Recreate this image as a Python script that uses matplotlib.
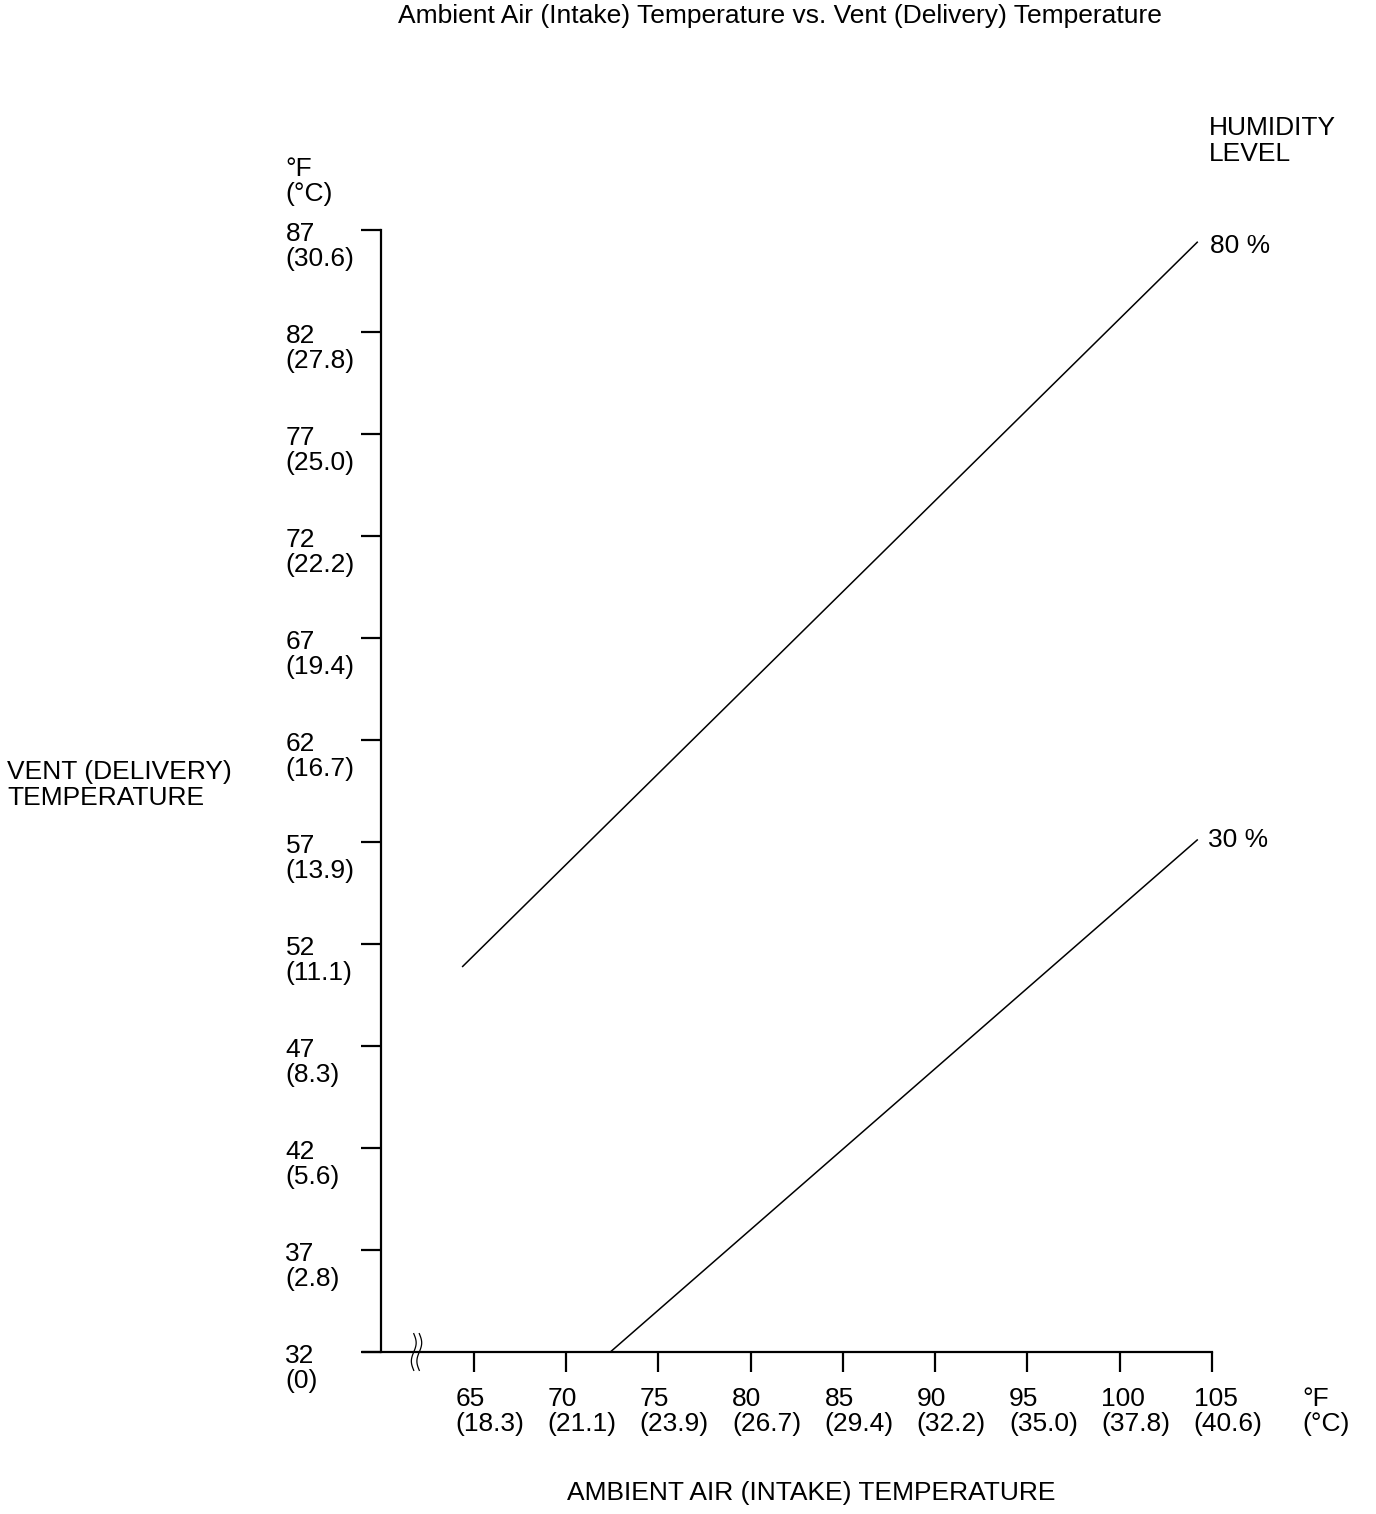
import numpy as np
import matplotlib
matplotlib.use('Agg')
import matplotlib.pyplot as plt

plt.rcParams['font.family'] = ['Liberation Sans', 'DejaVu Sans']

# Achsenwerte
x_ticks_f = [65, 70, 75, 80, 85, 90, 95, 100, 105]
x_ticks_c = ['18.3', '21.1', '23.9', '26.7', '29.4', '32.2', '35.0', '37.8', '40.6']
y_ticks_f = [32, 37, 42, 47, 52, 57, 62, 67, 72, 77, 82, 87]
y_ticks_c = ['0', '2.8', '5.6', '8.3', '11.1', '13.9', '16.7', '19.4', '22.2', '25.0', '27.8', '30.6']

# Kennlinien (Luftfeuchte)
hum_80_x = [64.4, 104.2]
hum_80_y = [50.9, 86.4]
hum_30_x = [72.4, 104.2]
hum_30_y = [32.0, 57.1]

W, H = 1376, 1514
fig = plt.figure(figsize=(W / 100, H / 100), dpi=100)

# Achse in Pixel positionieren
left, right, top, bottom = 363, 1212, 230, 1352
ax = fig.add_axes([left / W, 1 - bottom / H, (right - left) / W, (bottom - top) / H])
ax.set_xlim(59, 105)
ax.set_ylim(32, 87)

ax.spines['top'].set_visible(False)
ax.spines['right'].set_visible(False)
ax.spines['left'].set_position(('data', 60))
for s in ['left', 'bottom']:
    ax.spines[s].set_linewidth(1.6)

ax.set_xticks(x_ticks_f)
ax.set_yticks(y_ticks_f)
ax.tick_params(direction='out', length=14.5, width=1.6, labelbottom=False, labelleft=False)

ax.plot(hum_80_x, hum_80_y, color='black', lw=1.1)
ax.plot(hum_30_x, hum_30_y, color='black', lw=1.1, clip_on=False)

fs = 19
ls = 1.08
# Tick-Beschriftungen
for f, c in zip(x_ticks_f, x_ticks_c):
    ax.text(f - 1.0, 30.3, f'{f}\n({c})', ha='left', va='top', fontsize=fs,
            linespacing=ls, clip_on=False)
ax.text(109.9, 30.3, '°F\n(°C)', ha='left', va='top', fontsize=fs,
        linespacing=ls, clip_on=False)
for f, c in zip(y_ticks_f, y_ticks_c):
    ax.text(54.8, f + 0.4, f'{f}\n({c})', ha='left', va='top', fontsize=fs,
            linespacing=ls, clip_on=False)
ax.text(54.8, 90.6, '°F\n(°C)', ha='left', va='top', fontsize=fs,
        linespacing=ls, clip_on=False)

# Bruchzeichen auf der x-Achse
t = np.linspace(-1, 1, 50)
for dx in [0, 0.3]:
    xs = 61.75 + dx + 0.13 * np.sin(t * np.pi)
    ys = 32 + 0.9 * t
    ax.plot(xs, ys, color='black', lw=0.9, clip_on=False, zorder=5)

# Beschriftungen der Kennlinien
ax.text(104.9, 86.2, '80 %', ha='left', va='center', fontsize=fs, clip_on=False)
ax.text(104.8, 57.1, '30 %', ha='left', va='center', fontsize=fs, clip_on=False)

def ftext(x, y, s, **kw):
    fig.text(x / W, 1 - y / H, s, fontsize=fs, linespacing=ls, **kw)

ftext(780, 16, 'Ambient Air (Intake) Temperature vs. Vent (Delivery) Temperature',
      ha='center', va='center')
ftext(1209, 116, 'HUMIDITY\nLEVEL', ha='left', va='top')
ftext(7, 785, 'VENT (DELIVERY)\nTEMPERATURE', ha='left', va='center')
ftext(811, 1493, 'AMBIENT AIR (INTAKE) TEMPERATURE', ha='center', va='center')

fig.savefig('out.png', dpi=100)
